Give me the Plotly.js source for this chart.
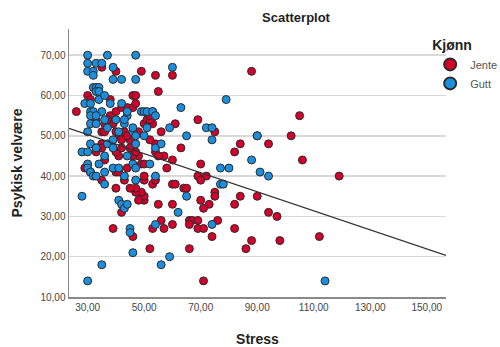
<!DOCTYPE html>
<html>
<head>
<meta charset="utf-8">
<script src="https://cdn.plot.ly/plotly-3.0.1.min.js"></script>
<style>html,body{margin:0;padding:0;background:#fff;}#chart{width:500px;height:347px;}</style>
</head>
<body>
<div id="chart"></div>
<script>
// Jente (red)
var jenteStress = [
  26,30,35,40,49,54,60,55,88,105,
  102,106,119,112,98,97,94,94,90,90,
  88,86,84,82,82,84,82,75,69,70,
  69,72,70,75,75,73,71,70,76,74,
  66,67,69,66,69,71,71,66,64,65,
  63,61,60,60,61,60,60,57,56,55,
  53,52,57,58,56,54,53,53,52,54,
  55,53,54,50,50,48,49,47,47,45,
  50,50,49,50,48,46,47,45,44,46,
  42,39,40,40,41,41,40,42,43,41,
  42,43,40,39,38,40,42,44,46,46,
  47,47,38,35,36,35,35,33,33,29,
  31,35,36,32,33,36,37,31,48,50,
  51,52,52,45,44
];
var jenteVelvaere = [
  56,60,67,66,66,65,65,61,66,55,
  50,44,40,25,24,30,31,48,50,35,
  24,22,35,33,27,48,46,51,54,43,
  40,40,39,36,35,33,32,34,29,25,
  29,29,29,28,27,27,14,22,37,37,
  47,53,44,38,38,33,28,27,29,33,
  27,22,45,42,51,48,53,56,49,46,
  45,38,39,34,35,34,36,36,37,37,
  39,40,43,43,45,45,46,47,42,25,
  31,27,37,41,41,45,46,47,39,50,
  49,51,51,53,55,56,57,57,57,60,
  60,58,59,51,51,48,47,46,47,42,
  41,39,44,54,54,53,54,59,51,53,
  54,54,55,49,50
];
// Gutt (blue)
var guttStress = [
  30,37,47,30,33,35,30,32,32,39,
  39,42,47,60,32,33,34,33,34,29,
  31,34,36,38,42,79,63,31,32,35,
  31,33,31,33,44,44,43,49,50,51,
  51,59,65,72,74,74,90,30,31,33,
  28,30,37,39,36,30,30,31,32,33,
  34,36,39,41,43,44,46,47,47,47,
  52,54,54,56,36,28,41,42,43,44,
  45,45,46,54,74,65,62,59,56,35,
  30,114,77,80,88,91,94,77,78,53,
  54,41,39,37,36,40,43,46,46,47,
  50
];
var guttVelvaere = [
  70,70,70,68,68,68,66,66,65,67,
  64,64,64,67,62,62,62,61,61,58,
  58,59,60,58,58,59,57,56,56,56,
  55,55,53,53,55,56,53,56,56,56,
  52,52,50,52,52,49,50,51,48,47,
  46,46,48,47,45,43,42,41,40,40,
  43,41,42,42,40,45,43,42,48,39,
  43,40,47,48,38,35,34,33,32,33,
  27,26,21,28,28,35,31,20,18,18,
  14,14,42,42,44,41,40,38,38,56,
  55,51,49,52,54,54,54,51,52,50,
  50
];
// Fit line: velvaere = intercept + slope * stress
var fitIntercept = 57.4;
var fitSlope = -0.2365;

var xRange = [23.4, 156.8];
var yRange = [10, 76.5];
var xTicks = [30, 50, 70, 90, 110, 130, 150];
var yTicks = [10, 20, 30, 40, 50, 60, 70];
function fmt(v){ return v.toFixed(2).replace('.', ','); }

var markerLine = {color: '#2b2b2b', width: 1};
var traces = [
  {
    type: 'scatter', mode: 'markers', name: 'Jente',
    x: jenteStress, y: jenteVelvaere,
    marker: {color: '#d4002b', size: 8, line: markerLine},
    cliponaxis: false
  },
  {
    type: 'scatter', mode: 'markers', name: 'Gutt',
    x: guttStress, y: guttVelvaere,
    marker: {color: '#1b8fdd', size: 8, line: markerLine},
    cliponaxis: false
  },
  {
    type: 'scatter', mode: 'lines', showlegend: false, hoverinfo: 'skip',
    x: xRange, y: xRange.map(function(v){ return fitIntercept + fitSlope * v; }),
    line: {color: '#333333', width: 1.3}
  }
];

var font = 'Liberation Sans, Arial, sans-serif';
var layout = {
  width: 500, height: 347,
  margin: {l: 69, r: 54, t: 29, b: 50, autoexpand: false},
  paper_bgcolor: '#ffffff', plot_bgcolor: '#ffffff',
  font: {family: font, color: '#333'},
  title: {
    text: '<b>Scatterplot</b>',
    font: {family: font, size: 13, color: '#222'},
    x: 0.592, xanchor: 'center', y: 0.951, yanchor: 'middle'
  },
  xaxis: {
    range: xRange, tickvals: xTicks, ticktext: xTicks.map(fmt),
    showgrid: false, zeroline: false, showline: true,
    linecolor: '#8a8a8a', linewidth: 1.5, ticks: '', automargin: false,
    tickfont: {family: font, size: 10, color: '#444'},
    title: {text: '<b>Stress</b>', font: {family: font, size: 14, color: '#222'}, standoff: 22}
  },
  yaxis: {
    range: yRange, tickvals: yTicks, ticktext: yTicks.map(fmt),
    showgrid: true, gridcolor: '#d9d9d9', gridwidth: 1.5,
    zeroline: false, showline: true, automargin: false,
    linecolor: '#8a8a8a', linewidth: 1.5, ticks: '',
    tickfont: {family: font, size: 10, color: '#444'},
    title: {text: '<b>Psykisk velvære</b>', font: {family: font, size: 14, color: '#222'}, standoff: 14}
  },
  showlegend: true,
  legend: {
    x: 0.958, xanchor: 'left', y: 0.99, yanchor: 'top',
    title: {text: '<b>Kjønn</b>', font: {family: font, size: 14, color: '#222'}},
    font: {family: font, size: 11, color: '#555'},
    itemsizing: 'constant', tracegroupgap: 0, itemwidth: 30,
    bgcolor: 'rgba(0,0,0,0)', borderwidth: 0
  }
};

Plotly.newPlot('chart', traces, layout, {staticPlot: true, displayModeBar: false});
</script>
</body>
</html>
